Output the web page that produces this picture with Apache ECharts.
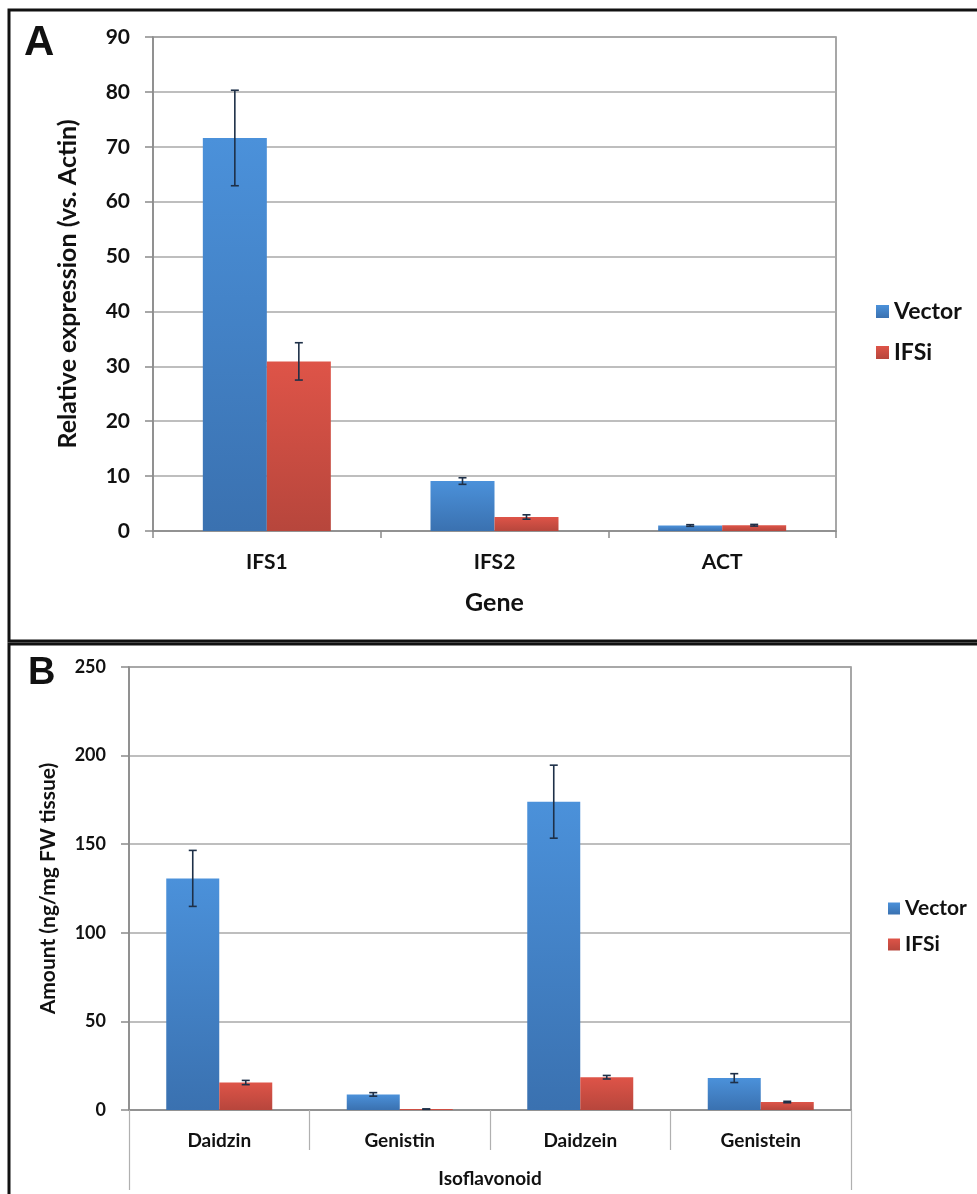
<!DOCTYPE html>
<html>
<head>
<meta charset="utf-8">
<script src="https://cdn.jsdelivr.net/npm/echarts@6/dist/echarts.min.js"></script>
<style>
  html, body { margin: 0; padding: 0; background: #fff; }
  #chart { width: 977px; height: 1194px; }
</style>
</head>
<body>
<div id="chart"></div>
<script>
// Panel A: gene expression relative to actin
const geneCategories = ['IFS1', 'IFS2', 'ACT'];
const geneVector = [71.6, 9.1, 1.0];
const geneVectorErr = [8.7, 0.6, 0.15];
const geneIFSi = [30.9, 2.55, 1.05];
const geneIFSiErr = [3.4, 0.4, 0.15];
const geneTicks = [0, 10, 20, 30, 40, 50, 60, 70, 80, 90];

// Panel B: isoflavonoid amounts
const isoCategories = ['Daidzin', 'Genistin', 'Daidzein', 'Genistein'];
const isoVector = [130.7, 8.8, 174.0, 18.0];
const isoVectorErr = [15.8, 1.0, 20.6, 2.5];
const isoIFSi = [15.5, 0.5, 18.5, 4.5];
const isoIFSiErr = [1.2, 0.1, 1.0, 0.4];
const isoTicks = [0, 50, 100, 150, 200, 250];

const FONT = 'Lato, "Open Sans", sans-serif';
const BAR_A = 64;
const BAR_B = 53;

const blueFill = new echarts.graphic.LinearGradient(0, 0, 0, 1, [
  { offset: 0, color: '#4b91da' },
  { offset: 1, color: '#3a71b0' }
]);
const redFill = new echarts.graphic.LinearGradient(0, 0, 0, 1, [
  { offset: 0, color: '#de5448' },
  { offset: 1, color: '#b7463c' }
]);

function errData(values, errs) {
  return values.map((v, i) => [i, v, errs[i]]);
}

function errorSeries(name, gridIdx, data, offset, cap) {
  return {
    type: 'custom',
    name: name + ' error',
    xAxisIndex: gridIdx === 0 ? 0 : 1,
    yAxisIndex: gridIdx,
    z: 10,
    silent: true,
    encode: { x: 0, y: 1 },
    data: data,
    renderItem: function (params, api) {
      const i = api.value(0);
      const v = api.value(1);
      const e = api.value(2);
      const top = api.coord([i, v + e]);
      const bot = api.coord([i, v - e]);
      const x = top[0] + offset;
      const style = { stroke: '#1e3048', lineWidth: 1.6 };
      return {
        type: 'group',
        children: [
          { type: 'line', shape: { x1: x, y1: top[1], x2: x, y2: bot[1] }, style: style },
          { type: 'line', shape: { x1: x - cap, y1: top[1], x2: x + cap, y2: top[1] }, style: style },
          { type: 'line', shape: { x1: x - cap, y1: bot[1], x2: x + cap, y2: bot[1] }, style: style }
        ]
      };
    }
  };
}

const chart = echarts.init(document.getElementById('chart'), null, { renderer: 'canvas' });

const option = {
  animation: false,
  backgroundColor: '#ffffff',
  textStyle: { fontFamily: FONT },
  graphic: [
    { type: 'rect', shape: { x: 9, y: 10, width: 990, height: 631 },
      style: { fill: 'none', stroke: '#111', lineWidth: 3 } },
    { type: 'rect', shape: { x: 9, y: 644, width: 990, height: 580 },
      style: { fill: 'none', stroke: '#111', lineWidth: 3 } },
    { type: 'text', left: 24, top: 22,
      style: { text: 'A', font: 'bold 42px "Liberation Sans", Arial, sans-serif', fill: '#111' } },
    { type: 'text', left: 28, top: 655,
      style: { text: 'B', font: 'bold 38px "Liberation Sans", Arial, sans-serif', fill: '#111' } }
  ],
  legend: [
    {
      data: ['Vector', 'IFSi'],
      orient: 'vertical', left: 871, top: 295,
      icon: 'rect', itemWidth: 13, itemHeight: 13, itemGap: 18,
      textStyle: { fontFamily: FONT, fontWeight: 'bold', fontSize: 23, color: '#111' }
    },
    {
      data: ['Vector', 'IFSi'],
      orient: 'vertical', left: 883, top: 893,
      icon: 'rect', itemWidth: 12, itemHeight: 12, itemGap: 15,
      textStyle: { fontFamily: FONT, fontWeight: 'bold', fontSize: 21, color: '#111' }
    }
  ],
  grid: [
    { left: 153, top: 37, width: 683, height: 494, show: true,
      borderColor: '#8a8a8a', borderWidth: 1.5, backgroundColor: '#fff' },
    { left: 129, top: 667, width: 722, height: 443, show: true,
      borderColor: '#8a8a8a', borderWidth: 1.5, backgroundColor: '#fff' }
  ],
  xAxis: [
    {
      gridIndex: 0, type: 'category', data: geneCategories,
      axisLine: { lineStyle: { color: '#8a8a8a', width: 1.5 } },
      axisTick: { show: true, length: 7, alignWithLabel: false, lineStyle: { color: '#8a8a8a', width: 1.5 } },
      axisLabel: { margin: 21, fontFamily: FONT, fontWeight: 'bold', fontSize: 21, color: '#111' },
      name: 'Gene', nameLocation: 'middle', nameGap: 59,
      nameTextStyle: { fontFamily: FONT, fontWeight: 'bold', fontSize: 25, color: '#111' }
    },
    {
      gridIndex: 1, type: 'category', data: isoCategories,
      axisLine: { lineStyle: { color: '#8a8a8a', width: 1.5 } },
      axisTick: { show: true, length: 40, alignWithLabel: false, lineStyle: { color: '#b0b0b0', width: 1.2 } },
      axisLabel: { margin: 21, fontFamily: FONT, fontWeight: 'bold', fontSize: 19, color: '#111' }
    },
    {
      gridIndex: 1, type: 'category', data: ['Isoflavonoid'], position: 'bottom', offset: 40,
      axisLine: { show: false },
      axisTick: { show: true, length: 40, alignWithLabel: false, lineStyle: { color: '#b0b0b0', width: 1.2 } },
      axisLabel: { margin: 19, fontFamily: FONT, fontWeight: 'bold', fontSize: 19, color: '#111' }
    }
  ],
  yAxis: [
    {
      gridIndex: 0, type: 'value', min: geneTicks[0], max: geneTicks[geneTicks.length - 1], interval: 10,
      axisLine: { show: true, lineStyle: { color: '#8a8a8a', width: 1.5 } },
      axisTick: { show: true, length: 8, lineStyle: { color: '#8a8a8a', width: 1.5 } },
      splitLine: { lineStyle: { color: '#a9a9a9', width: 1.6 } },
      axisLabel: { margin: 23, fontFamily: FONT, fontWeight: 'bold', fontSize: 21, color: '#111' },
      name: 'Relative expression (vs. Actin)', nameLocation: 'middle', nameGap: 73, nameRotate: 90,
      nameTextStyle: { fontFamily: FONT, fontWeight: 'bold', fontSize: 25, color: '#111' }
    },
    {
      gridIndex: 1, type: 'value', min: isoTicks[0], max: isoTicks[isoTicks.length - 1], interval: 50,
      axisLine: { show: true, lineStyle: { color: '#8a8a8a', width: 1.5 } },
      axisTick: { show: true, length: 8, lineStyle: { color: '#8a8a8a', width: 1.5 } },
      splitLine: { lineStyle: { color: '#a9a9a9', width: 1.6 } },
      axisLabel: { margin: 23, fontFamily: FONT, fontWeight: 'bold', fontSize: 18, color: '#111' },
      name: 'Amount (ng/mg FW tissue)', nameLocation: 'middle', nameGap: 70, nameRotate: 90,
      nameTextStyle: { fontFamily: FONT, fontWeight: 'bold', fontSize: 21, color: '#111' }
    }
  ],
  series: [
    { name: 'Vector', type: 'bar', xAxisIndex: 0, yAxisIndex: 0, data: geneVector,
      barWidth: BAR_A, barGap: '0%', itemStyle: { color: blueFill } },
    { name: 'IFSi', type: 'bar', xAxisIndex: 0, yAxisIndex: 0, data: geneIFSi,
      barWidth: BAR_A, barGap: '0%', itemStyle: { color: redFill } },
    { name: 'Vector', type: 'bar', xAxisIndex: 1, yAxisIndex: 1, data: isoVector,
      barWidth: BAR_B, barGap: '0%', itemStyle: { color: blueFill } },
    { name: 'IFSi', type: 'bar', xAxisIndex: 1, yAxisIndex: 1, data: isoIFSi,
      barWidth: BAR_B, barGap: '0%', itemStyle: { color: redFill } },
    errorSeries('Vector', 0, errData(geneVector, geneVectorErr), -BAR_A / 2, 4),
    errorSeries('IFSi', 0, errData(geneIFSi, geneIFSiErr), BAR_A / 2, 4),
    errorSeries('Vector', 1, errData(isoVector, isoVectorErr), -BAR_B / 2, 4),
    errorSeries('IFSi', 1, errData(isoIFSi, isoIFSiErr), BAR_B / 2, 4)
  ]
};

chart.setOption(option);
</script>
</body>
</html>
